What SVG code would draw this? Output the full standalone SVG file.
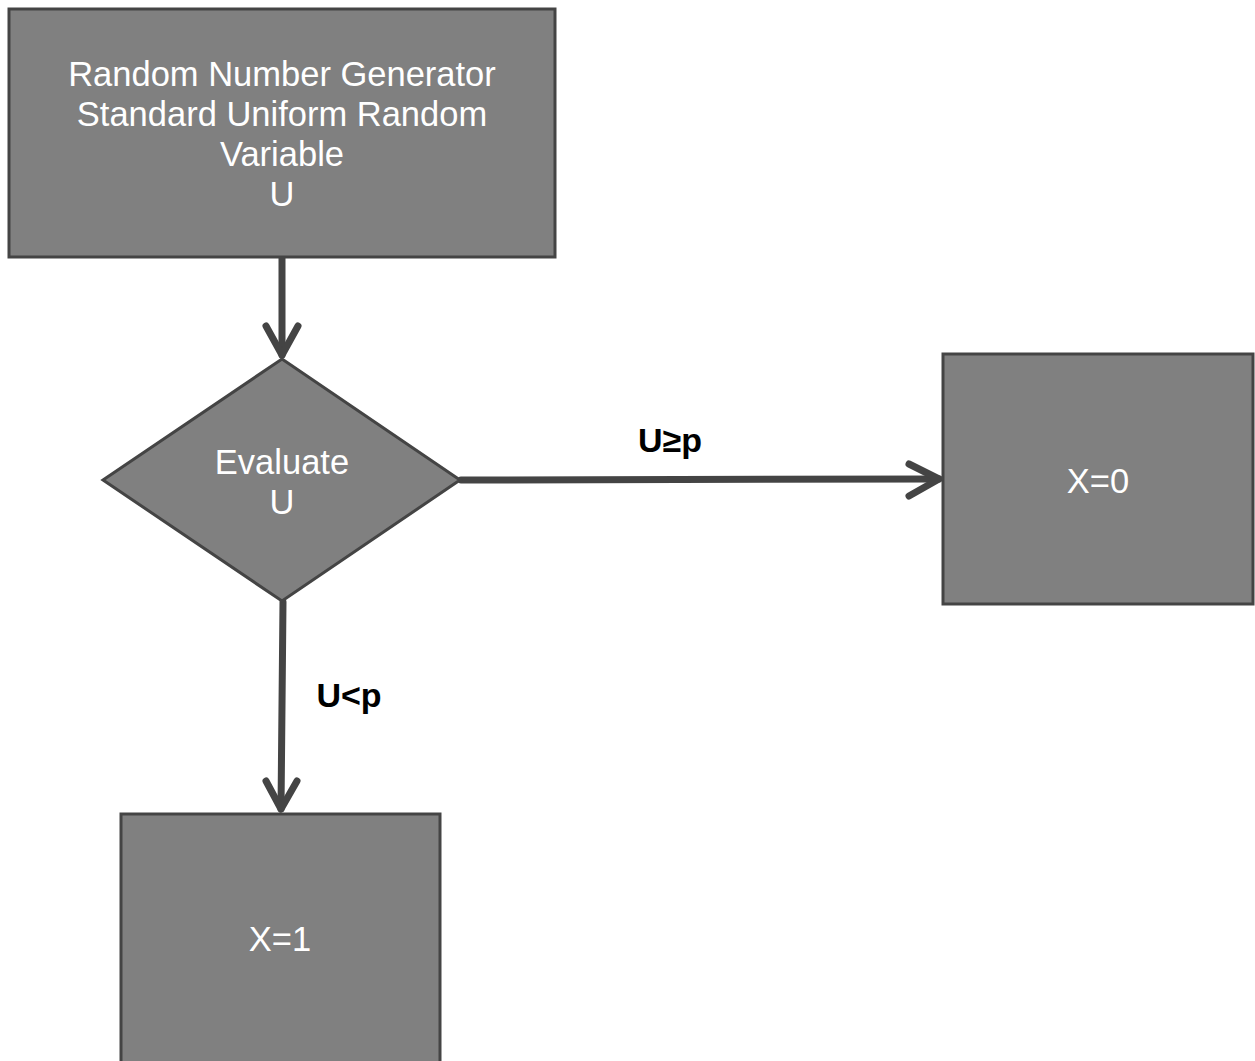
<svg xmlns="http://www.w3.org/2000/svg" width="1255" height="1061" viewBox="0 0 1255 1061">
<style>
.node{fill:#808080;stroke:#444444;stroke-width:3}
.nt{fill:#ffffff;font-family:"Liberation Sans",Arial,sans-serif;font-size:34.5px;text-anchor:middle}
.conn{stroke:#444444;stroke-width:7;fill:none;stroke-linecap:round;stroke-linejoin:round}
.lbl{fill:#000000;font-family:"Liberation Sans",Arial,sans-serif;font-size:34px;font-weight:bold;text-anchor:middle}
</style>
<rect width="1255" height="1061" fill="#ffffff"/>
<g id="connectors">
<path class="conn" d="M282 258 L282 355"/>
<path class="conn" d="M266 326 L282 355 L298 326"/>
<path class="conn" d="M461 480 L939 479"/>
<path class="conn" d="M909 464 L939 479 L909 496"/>
<path class="conn" d="M283 602 L281 809"/>
<path class="conn" d="M266 781 L281 809 L297 781"/>
<text class="lbl" x="670" y="452">U≥p</text>
<text class="lbl" x="349" y="707">U&lt;p</text>
</g>
<g id="rng">
<rect class="node" x="9" y="9" width="546" height="248"/>
<text class="nt" x="282" y="86">Random Number Generator</text>
<text class="nt" x="282" y="126">Standard Uniform Random</text>
<text class="nt" x="282" y="166">Variable</text>
<text class="nt" x="282" y="206">U</text>
</g>
<g id="evaluate">
<polygon class="node" points="282,359 460,480 282,601 103,480"/>
<text class="nt" x="282" y="474">Evaluate</text>
<text class="nt" x="282" y="514">U</text>
</g>
<g id="x0">
<rect class="node" x="943" y="354" width="310" height="250"/>
<text class="nt" x="1098" y="493">X=0</text>
</g>
<g id="x1">
<rect class="node" x="121" y="814" width="319" height="260"/>
<text class="nt" x="280" y="951">X=1</text>
</g>
</svg>
